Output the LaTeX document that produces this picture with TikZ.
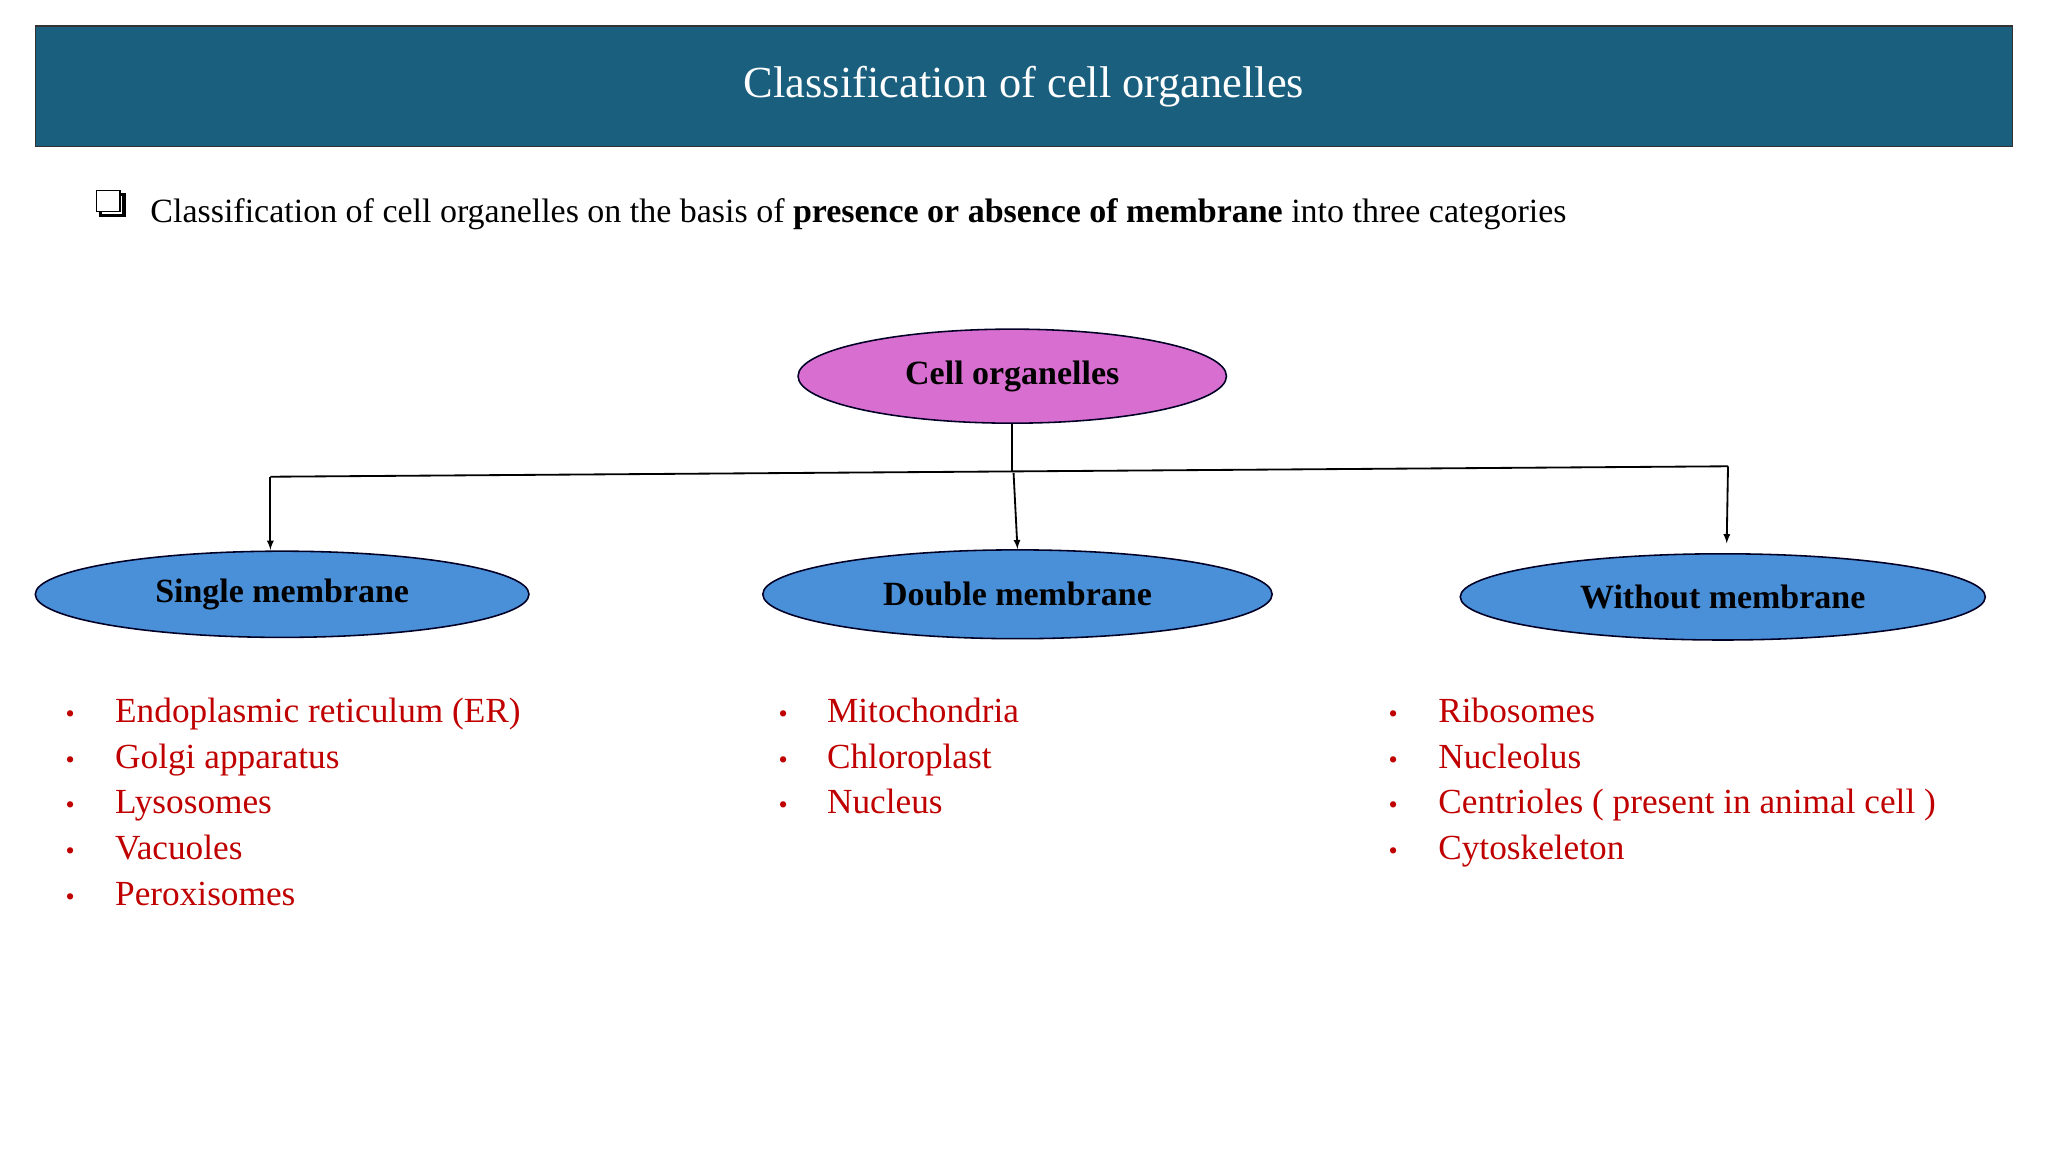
\documentclass[tikz,border=0pt]{standalone}
\usepackage{fontspec}
\setmainfont{Liberation Serif}
\definecolor{titlebg}{HTML}{1B5F7F}
\definecolor{itemred}{HTML}{C00000}
\definecolor{pinkfill}{HTML}{D86ED0}
\definecolor{bluefill}{HTML}{4A90D9}
\begin{document}
\begin{tikzpicture}[x=1pt,y=-1pt,
  ell/.style={ellipse,draw=black!85!blue,line width=1.2pt,inner sep=0pt,font=\fontsize{26}{30}\selectfont\bfseries},
  item/.style={anchor=base west,text=itemred,font=\fontsize{27}{32}\selectfont,inner sep=0pt},
  dot/.style={anchor=base west,text=itemred,font=\fontsize{20}{24}\selectfont,inner sep=0pt},
  arr/.style={-latex,line width=1.4pt}]
\usetikzlibrary{shapes.geometric}
\useasboundingbox (0,0) rectangle (1568,882);
\fill[white] (0,0) rectangle (1568,882);
\node[draw=black!80,line width=1pt,fill=titlebg,minimum width=1514pt,minimum height=92pt,inner sep=0pt,
  text=white,font=\fontsize{34}{40}\selectfont] (title) at (784,66) {Classification of cell organelles};
\draw[line width=1.2pt,fill=white] (74,146) rectangle (92,162);
\draw[line width=2.5pt] (92,149) -- (95,149) -- (95,165) -- (77,165) -- (77,162);
\node[anchor=base west,inner sep=0pt,font=\fontsize{26}{30}\selectfont] (intro) at (115,170)
  {Classification of cell organelles on the basis of \textbf{presence or absence of membrane} into three categories};
\node[ell,fill=pinkfill,minimum width=328pt,minimum height=72pt] (cell) at (775,288) {Cell organelles};
\node[ell,fill=bluefill,minimum width=378pt,minimum height=66pt] (single) at (216,455) {Single membrane};
\node[ell,fill=bluefill,minimum width=390pt,minimum height=68pt] (double) at (779,455) {Double membrane};
\node[ell,fill=bluefill,minimum width=402pt,minimum height=66pt] (without) at (1319,457) {Without membrane};
\coordinate (j) at (775,361);
\coordinate (l) at (207,365);
\coordinate (r) at (1323,357);
\draw[line width=1.4pt] (cell.south) -- (j);
\draw[line width=1.4pt] (l) -- (r);
\draw[arr] (l) -- (207,421);
\draw[arr] (776,362) -- (double.north);
\draw[arr] (r) -- (1322,416);
\foreach \x/\t [count=\i] in {{Endoplasmic reticulum (ER)},{Golgi apparatus},{Lysosomes},{Vacuoles},{Peroxisomes}}{
  \node[dot] (sd\i) at (50,{518+35*\i}) {•};
  \node[item] (s\i) at (88,{518+35*\i}) {\x};}
\foreach \x [count=\i] in {Mitochondria,Chloroplast,Nucleus}{
  \node[dot] (dd\i) at (596,{518+35*\i}) {•};
  \node[item] (d\i) at (633,{518+35*\i}) {\x};}
\foreach \x [count=\i] in {Ribosomes,Nucleolus,{Centrioles ( present in animal cell )},Cytoskeleton}{
  \node[dot] (wd\i) at (1063,{518+35*\i}) {•};
  \node[item] (w\i) at (1101,{518+35*\i}) {\x};}
\end{tikzpicture}
\end{document}
